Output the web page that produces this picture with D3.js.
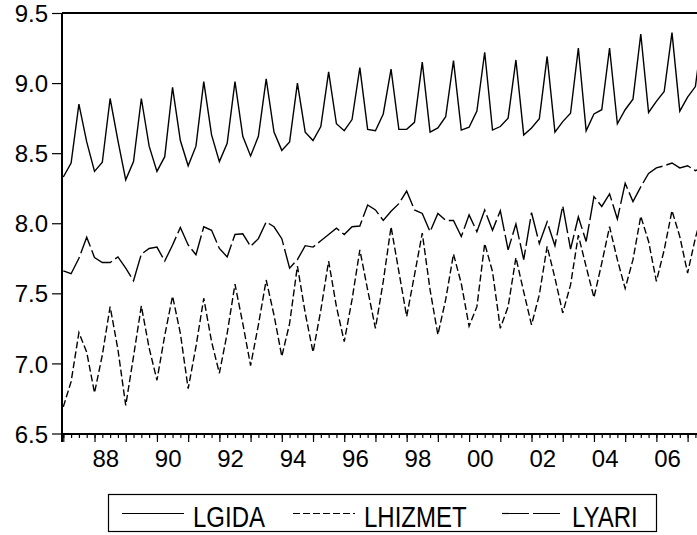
<!DOCTYPE html>
<html>
<head>
<meta charset="utf-8">
<script src="https://cdn.jsdelivr.net/npm/d3@7"></script>
<style>
  body { margin: 0; background: #fff; }
  svg text { font-family: "Liberation Sans", Arial, sans-serif; fill: #000; }
</style>
</head>
<body>
<div id="chart"></div>
<script>
// Quarterly observations, 1987Q1 onwards.
const startYear = 1987;

const lgida = [
  8.33, 8.43, 8.85, 8.58, 8.37, 8.435, 8.89, 8.59, 8.31, 8.44,
  8.89, 8.55, 8.37, 8.475, 8.97, 8.59, 8.41, 8.55, 9.01, 8.63,
  8.44, 8.57, 9.01, 8.62, 8.48, 8.62, 9.03, 8.65, 8.52, 8.58,
  9.00, 8.65, 8.59, 8.69, 9.08, 8.71, 8.66, 8.74, 9.11, 8.67,
  8.66, 8.78, 9.10, 8.67, 8.67, 8.72, 9.15, 8.65, 8.68, 8.76,
  9.16, 8.665, 8.685, 8.80, 9.22, 8.665, 8.69, 8.75, 9.165, 8.63,
  8.68, 8.745, 9.19, 8.65, 8.725, 8.785, 9.25, 8.66, 8.78, 8.81,
  9.25, 8.71, 8.81, 8.885, 9.35, 8.79, 8.87, 8.94, 9.36, 8.80,
  8.90, 8.975, 9.40
];

const lhizmet = [
  6.69, 6.87, 7.22, 7.08, 6.79, 7.06, 7.405, 7.10, 6.70, 7.05,
  7.41, 7.11, 6.88, 7.20, 7.48, 7.215, 6.82, 7.12, 7.465, 7.155,
  6.93, 7.215, 7.565, 7.285, 6.985, 7.275, 7.595, 7.345, 7.05, 7.285,
  7.695, 7.36, 7.08, 7.38, 7.73, 7.405, 7.155, 7.455, 7.81, 7.525,
  7.25, 7.585, 7.975, 7.655, 7.335, 7.63, 7.93, 7.525, 7.205, 7.455,
  7.78, 7.57, 7.265, 7.405, 7.855, 7.655, 7.25, 7.405, 7.755, 7.51,
  7.275, 7.49, 7.835, 7.61, 7.36, 7.56, 7.915, 7.69, 7.47, 7.715,
  7.975, 7.74, 7.535, 7.74, 8.05, 7.87, 7.585, 7.81, 8.09, 7.905,
  7.645, 7.895, 8.10
];

const lyari = [
  7.66, 7.64, 7.75, 7.90, 7.755, 7.72, 7.72, 7.76, 7.68, 7.59,
  7.78, 7.82, 7.83, 7.73, 7.845, 7.97, 7.845, 7.775, 7.975, 7.95,
  7.82, 7.76, 7.92, 7.925, 7.835, 7.89, 8.01, 7.975, 7.89, 7.68,
  7.74, 7.84, 7.83, 7.875, 7.92, 7.965, 7.92, 7.975, 7.98, 8.13,
  8.095, 8.02, 8.085, 8.14, 8.23, 8.095, 8.07, 7.94, 8.07, 8.02,
  8.02, 7.905, 8.06, 7.94, 8.095, 7.95, 8.09, 7.81, 7.995, 7.74,
  8.075, 7.855, 8.01, 7.84, 8.125, 7.815, 8.045, 7.87, 8.19, 8.12,
  8.21, 8.03, 8.285, 8.155, 8.26, 8.355, 8.395, 8.41, 8.43, 8.395,
  8.41, 8.375, 8.40
];

const yTicks = [6.5, 7.0, 7.5, 8.0, 8.5, 9.0, 9.5];
const yearLabels = ["88", "90", "92", "94", "96", "98", "00", "02", "04", "06"];
const labelYears = [1988, 1990, 1992, 1994, 1996, 1998, 2000, 2002, 2004, 2006];

const series = [
  { name: "LGIDA", values: lgida, dash: null },
  { name: "LHIZMET", values: lhizmet, dash: "7,3" },
  { name: "LYARI", values: lyari, dash: "27,4" },
];

const width = 697;
const height = 535;
const plotLeft = 62;
const plotTop = 13;
const plotBottom = 434;

const x = d3.scaleLinear().domain([1987, 2007]).range([63.3, 687.6]);
const y = d3.scaleLinear().domain([6.5, 9.5]).range([433.5, 13]);

const svg = d3.select("#chart")
  .append("svg")
    .attr("width", width)
    .attr("height", height);

// Data lines, clipped to the plot box.
svg.append("clipPath")
    .attr("id", "plot")
  .append("rect")
    .attr("x", plotLeft)
    .attr("y", plotTop)
    .attr("width", 800)
    .attr("height", plotBottom - plotTop);

const line = d3.line()
  .x((d, i) => x(startYear + i / 4))
  .y(d => y(d));

svg.append("g")
    .attr("clip-path", "url(#plot)")
  .selectAll("path")
  .data(series)
  .join("path")
    .attr("d", d => line(d.values))
    .attr("fill", "none")
    .attr("stroke", "#000")
    .attr("stroke-width", 1.4)
    .attr("stroke-dasharray", d => d.dash);

// Y axis.
const yAxis = svg.append("g")
  .attr("transform", `translate(${plotLeft},0)`)
  .call(d3.axisLeft(y)
    .tickValues(yTicks)
    .tickSize(10)
    .tickPadding(4)
    .tickFormat(d3.format(".1f")));
yAxis.select(".domain").remove();
yAxis.selectAll("line").attr("stroke", "#000").attr("stroke-width", 1.2);
yAxis.selectAll("text")
  .style("font-size", "24px")
  .attr("dy", "0.36em");

// X axis: quarterly minor ticks, yearly major ticks.
const quarters = d3.range(1987, 2008, 0.25);
const years = d3.range(1987, 2008);

const xMinor = svg.append("g")
  .attr("transform", `translate(0,${plotBottom})`)
  .call(d3.axisBottom(x).tickValues(quarters).tickSize(4).tickFormat(""));
xMinor.select(".domain").remove();

const xMajor = svg.append("g")
  .attr("transform", `translate(0,${plotBottom})`)
  .call(d3.axisBottom(x).tickValues(years).tickSize(8).tickFormat(""));
xMajor.select(".domain").remove();

svg.selectAll(".tick line").attr("stroke", "#000").attr("stroke-width", 1.2);

svg.append("g")
  .selectAll("text")
  .data(labelYears)
  .join("text")
    .attr("x", d => x(d + 0.36))
    .attr("y", 467)
    .attr("text-anchor", "middle")
    .style("font-size", "24px")
    .text((d, i) => yearLabels[i]);

// Frame lines.
svg.append("line")
  .attr("x1", plotLeft).attr("x2", plotLeft)
  .attr("y1", plotTop).attr("y2", plotBottom + 8)
  .attr("stroke", "#000").attr("stroke-width", 2);
svg.append("line")
  .attr("x1", plotLeft).attr("x2", width)
  .attr("y1", plotTop).attr("y2", plotTop)
  .attr("stroke", "#000").attr("stroke-width", 1.8);
svg.append("line")
  .attr("x1", plotLeft).attr("x2", width)
  .attr("y1", plotBottom).attr("y2", plotBottom)
  .attr("stroke", "#000").attr("stroke-width", 2);

// Legend.
const legend = svg.append("g");
legend.append("rect")
  .attr("x", 108.5).attr("y", 494.5)
  .attr("width", 548).attr("height", 37)
  .attr("fill", "none")
  .attr("stroke", "#000")
  .attr("stroke-width", 1.2);

const legendItems = [
  { lineX: 122, textX: 193 },
  { lineX: 293, textX: 364 },
  { lineX: 502, textX: 572 },
];

series.forEach((s, i) => {
  const item = legendItems[i];
  legend.append("line")
    .attr("x1", item.lineX).attr("x2", item.lineX + 62)
    .attr("y1", 513.5).attr("y2", 513.5)
    .attr("stroke", "#000")
    .attr("stroke-width", 1.2)
    .attr("stroke-dasharray", s.dash);
  // legend text is drawn a little taller than the axis labels
  legend.append("text")
    .attr("transform", `translate(${item.textX},526.5) scale(1,1.2)`)
    .style("font-size", "24px")
    .text(s.name);
});
</script>
</body>
</html>
